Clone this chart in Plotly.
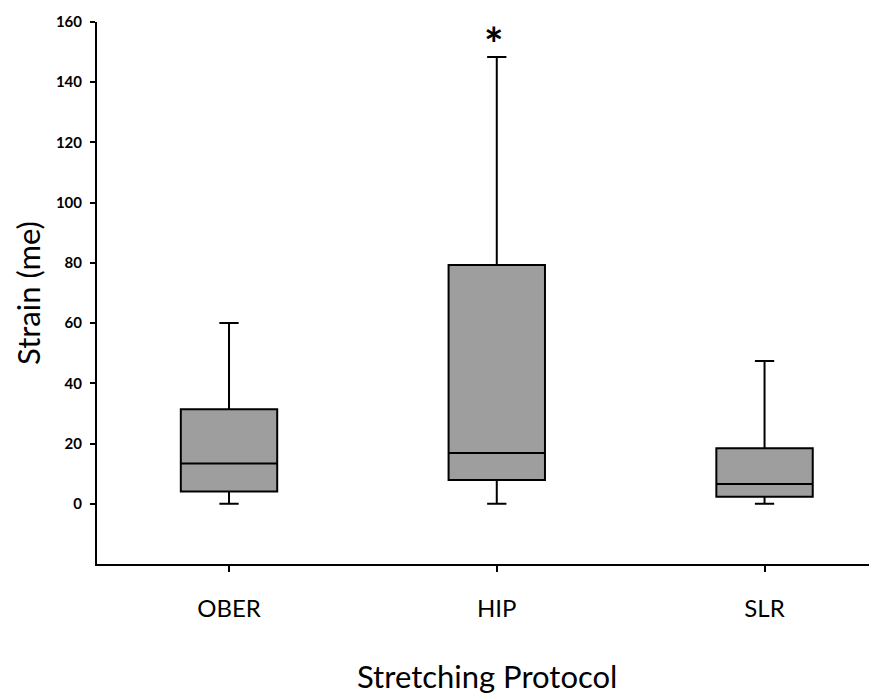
import plotly.graph_objects as go

categories = ["OBER", "HIP", "SLR"]
lower_whisker = [0, 0, 0]
q1_values = [4.1, 7.9, 2.3]
median_values = [13.4, 16.9, 6.6]
q3_values = [31.4, 79.3, 18.4]
upper_whisker = [60, 148.4, 47.4]
y_ticks = [0, 20, 40, 60, 80, 100, 120, 140, 160]

FONT = "Lato, 'Open Sans', sans-serif"

fig = go.Figure()
for i, cat in enumerate(categories):
    fig.add_trace(go.Box(
        x=[i],
        q1=[q1_values[i]], median=[median_values[i]], q3=[q3_values[i]],
        lowerfence=[lower_whisker[i]], upperfence=[upper_whisker[i]],
        boxpoints=False,
        fillcolor="#9e9e9e",
        line=dict(color="black", width=2),
        width=0.36,
        whiskerwidth=0.2,
        showlegend=False,
        hoverinfo="skip",
    ))

fig.add_annotation(x=0.99, y=152.7, xref="x", yref="y", text="<b>*</b>",
                   showarrow=False, font=dict(family=FONT, size=46, color="black"),
                   yanchor="middle")

fig.add_annotation(x=0.5, y=-0.2066, xref="paper", yref="paper",
                   text="Stretching Protocol", showarrow=False,
                   font=dict(family=FONT, size=31, color="black"), yanchor="middle")
fig.add_annotation(x=-0.0885, y=0.5, xref="paper", yref="paper",
                   text="Strain (me)", showarrow=False, textangle=-90,
                   font=dict(family=FONT, size=31, color="black"), xanchor="center")

fig.update_layout(
    width=869, height=688,
    margin=dict(l=89, r=0, t=14, b=132),
    plot_bgcolor="white", paper_bgcolor="white",
    font=dict(family=FONT, color="black"),
    xaxis=dict(
        range=[-0.493, 2.42], tickmode="array", tickvals=[0, 1, 2], ticktext=categories,
        showline=True, linecolor="black", linewidth=2, showgrid=False, zeroline=False,
        ticks="outside", ticklen=6, tickwidth=2, tickcolor="black",
        tickfont=dict(family=FONT, size=24, color="black"), ticklabelstandoff=16,
    ),
    yaxis=dict(
        range=[-20, 160], tickvals=y_ticks,
        showline=True, linecolor="black", linewidth=2, showgrid=False, zeroline=False,
        ticks="outside", ticklen=5, tickwidth=2, tickcolor="black",
        tickfont=dict(family=FONT, size=15, color="black", weight="bold"),
        ticklabelstandoff=5,
    ),
)

fig.write_html("out.html")
